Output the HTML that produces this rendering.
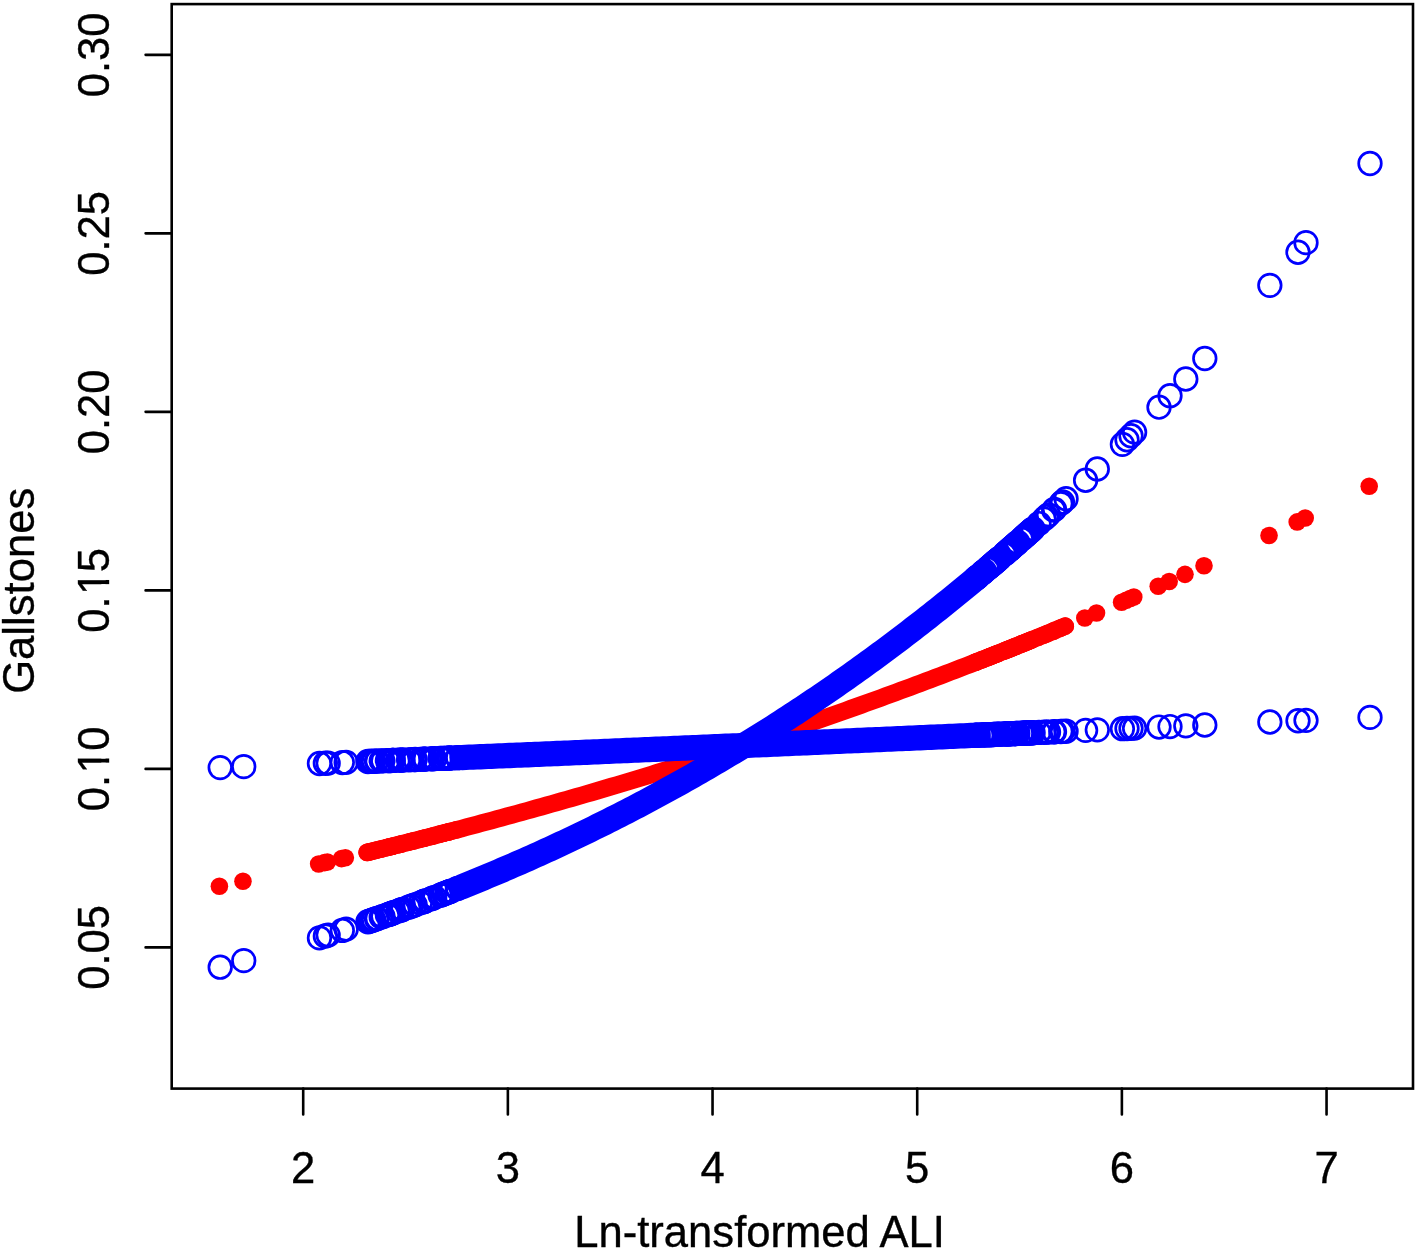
<!DOCTYPE html>
<html><head><meta charset="utf-8"><title>Gallstones vs Ln-transformed ALI</title>
<style>html,body{margin:0;padding:0;background:#fff;overflow:hidden;}svg{display:block;}</style>
</head><body>
<svg width="1417" height="1250" viewBox="0 0 1417 1250">
<rect width="1417" height="1250" fill="#fff"/>
<polyline points="367.15,852.41 372.14,851.19 377.12,849.97 382.11,848.74 387.1,847.5 392.08,846.27 397.07,845.02 402.05,843.77 407.04,842.52 412.03,841.26 417.01,840 422,838.73 426.99,837.46 431.97,836.18 436.96,834.89 441.95,833.6 446.93,832.31 451.92,831.01 456.91,829.7 461.89,828.39 466.88,827.08 471.86,825.76 476.85,824.43 481.84,823.1 486.82,821.76 491.81,820.42 496.8,819.07 501.78,817.72 506.77,816.36 511.76,815 516.74,813.63 521.73,812.26 526.72,810.88 531.7,809.49 536.69,808.1 541.67,806.7 546.66,805.3 551.65,803.89 556.63,802.48 561.62,801.06 566.61,799.64 571.59,798.21 576.58,796.77 581.57,795.33 586.55,793.88 591.54,792.43 596.53,790.97 601.51,789.51 606.5,788.04 611.49,786.56 616.47,785.08 621.46,783.6 626.44,782.1 631.43,780.6 636.42,779.1 641.4,777.59 646.39,776.07 651.38,774.55 656.36,773.02 661.35,771.49 666.34,769.95 671.32,768.4 676.31,766.85 681.3,765.3 686.28,763.73 691.27,762.16 696.25,760.59 701.24,759.01 706.23,757.42 711.21,755.82 716.2,754.22 721.19,752.62 726.17,751.01 731.16,749.39 736.15,747.76 741.13,746.13 746.12,744.49 751.11,742.85 756.09,741.2 761.08,739.55 766.06,737.89 771.05,736.22 776.04,734.54 781.02,732.86 786.01,731.18 791,729.48 795.98,727.78 800.97,726.08 805.96,724.36 810.94,722.65 815.93,720.92 820.91,719.19 825.9,717.45 830.89,715.71 835.87,713.95 840.86,712.2 845.85,710.43 850.83,708.66 855.82,706.89 860.81,705.1 865.79,703.31 870.78,701.51 875.77,699.71 880.75,697.9 885.74,696.08 890.72,694.26 895.71,692.43 900.7,690.59 905.68,688.75 910.67,686.9 915.66,685.04 920.64,683.18 925.63,681.31 930.62,679.43 935.6,677.55 940.59,675.66 945.58,673.76 950.56,671.86 955.55,669.95 960.54,668.03 965.52,666.1 970.51,664.17 975.49,662.23 980.48,660.29 985.47,658.33 990.45,656.37 995.44,654.41 1000.43,652.43 1005.41,650.45 1010.4,648.47 1015.39,646.47 1020.37,644.47 1025.36,642.46 1030.35,640.45 1035.33,638.42 1040.32,636.39 1045.3,634.36 1050.29,632.31 1055.28,630.26 1060.26,628.2 1065.25,626.14" fill="none" stroke="#ff0000" stroke-width="17.6" stroke-linecap="round" stroke-linejoin="round"/>
<g fill="#ff0000"><circle cx="219.4" cy="886.32" r="8.8"/><circle cx="242.95" cy="881.19" r="8.8"/><circle cx="318.65" cy="864" r="8.8"/><circle cx="324.55" cy="862.61" r="8.8"/><circle cx="327.35" cy="861.95" r="8.8"/><circle cx="341.5" cy="858.6" r="8.8"/><circle cx="345.35" cy="857.68" r="8.8"/><circle cx="1084.8" cy="617.97" r="8.8"/><circle cx="1096.5" cy="613.03" r="8.8"/><circle cx="1121.6" cy="602.29" r="8.8"/><circle cx="1126.2" cy="600.31" r="8.8"/><circle cx="1130.2" cy="598.57" r="8.8"/><circle cx="1133.8" cy="597.01" r="8.8"/><circle cx="1158.2" cy="586.31" r="8.8"/><circle cx="1169.2" cy="581.43" r="8.8"/><circle cx="1185" cy="574.35" r="8.8"/><circle cx="1204" cy="565.74" r="8.8"/><circle cx="1269.04" cy="535.44" r="8.8"/><circle cx="1297.2" cy="521.92" r="8.8"/><circle cx="1305.2" cy="518.04" r="8.8"/><circle cx="1369.2" cy="486.24" r="8.8"/><circle cx="367.15" cy="852.41" r="8.8"/><circle cx="369.04" cy="851.95" r="8.8"/><circle cx="369.62" cy="851.8" r="8.8"/><circle cx="371.53" cy="851.34" r="8.8"/><circle cx="372.96" cy="850.99" r="8.8"/><circle cx="375.7" cy="850.32" r="8.8"/><circle cx="376.42" cy="850.14" r="8.8"/><circle cx="380.4" cy="849.16" r="8.8"/><circle cx="382.13" cy="848.73" r="8.8"/><circle cx="386.61" cy="847.62" r="8.8"/><circle cx="387.61" cy="847.38" r="8.8"/><circle cx="389.28" cy="846.96" r="8.8"/><circle cx="389.75" cy="846.85" r="8.8"/><circle cx="391.93" cy="846.3" r="8.8"/><circle cx="392.15" cy="846.25" r="8.8"/><circle cx="392.31" cy="846.21" r="8.8"/><circle cx="397.17" cy="845" r="8.8"/><circle cx="399.52" cy="844.41" r="8.8"/><circle cx="401.1" cy="844.01" r="8.8"/><circle cx="402.05" cy="843.78" r="8.8"/><circle cx="407.77" cy="842.34" r="8.8"/><circle cx="410.48" cy="841.65" r="8.8"/><circle cx="413.68" cy="840.84" r="8.8"/><circle cx="414.34" cy="840.68" r="8.8"/><circle cx="419.57" cy="839.35" r="8.8"/><circle cx="422.64" cy="838.57" r="8.8"/><circle cx="423.83" cy="838.26" r="8.8"/><circle cx="424.47" cy="838.1" r="8.8"/><circle cx="430.31" cy="836.6" r="8.8"/><circle cx="431.76" cy="836.23" r="8.8"/><circle cx="433.9" cy="835.68" r="8.8"/><circle cx="439.3" cy="834.29" r="8.8"/><circle cx="440.83" cy="833.89" r="8.8"/><circle cx="443.09" cy="833.31" r="8.8"/><circle cx="443.31" cy="833.25" r="8.8"/><circle cx="446.34" cy="832.46" r="8.8"/><circle cx="448.07" cy="832.01" r="8.8"/><circle cx="448.32" cy="831.95" r="8.8"/><circle cx="448.77" cy="831.83" r="8.8"/><circle cx="450.88" cy="831.28" r="8.8"/><circle cx="456.56" cy="829.8" r="8.8"/><circle cx="456.87" cy="829.71" r="8.8"/><circle cx="974.7" cy="662.54" r="8.8"/><circle cx="975.6" cy="662.19" r="8.8"/><circle cx="976.5" cy="661.84" r="8.8"/><circle cx="977.4" cy="661.49" r="8.8"/><circle cx="981" cy="660.08" r="8.8"/><circle cx="981.9" cy="659.73" r="8.8"/><circle cx="982.8" cy="659.38" r="8.8"/><circle cx="983.7" cy="659.03" r="8.8"/><circle cx="986.4" cy="657.97" r="8.8"/><circle cx="987.3" cy="657.61" r="8.8"/><circle cx="988.2" cy="657.26" r="8.8"/><circle cx="989.1" cy="656.91" r="8.8"/><circle cx="990" cy="656.55" r="8.8"/><circle cx="990.9" cy="656.2" r="8.8"/><circle cx="991.8" cy="655.84" r="8.8"/><circle cx="992.7" cy="655.49" r="8.8"/><circle cx="993.6" cy="655.13" r="8.8"/><circle cx="994.5" cy="654.78" r="8.8"/><circle cx="995.4" cy="654.42" r="8.8"/><circle cx="996.3" cy="654.07" r="8.8"/><circle cx="997.2" cy="653.71" r="8.8"/><circle cx="998.1" cy="653.36" r="8.8"/><circle cx="999" cy="653" r="8.8"/><circle cx="1003.5" cy="651.21" r="8.8"/><circle cx="1004.4" cy="650.86" r="8.8"/><circle cx="1005.3" cy="650.5" r="8.8"/><circle cx="1006.2" cy="650.14" r="8.8"/><circle cx="1007.1" cy="649.78" r="8.8"/><circle cx="1008" cy="649.42" r="8.8"/><circle cx="1008.9" cy="649.06" r="8.8"/><circle cx="1009.8" cy="648.7" r="8.8"/><circle cx="1010.7" cy="648.35" r="8.8"/><circle cx="1011.6" cy="647.99" r="8.8"/><circle cx="1012.5" cy="647.63" r="8.8"/><circle cx="1013.4" cy="647.27" r="8.8"/><circle cx="1014.3" cy="646.91" r="8.8"/><circle cx="1015.2" cy="646.55" r="8.8"/><circle cx="1016.1" cy="646.18" r="8.8"/><circle cx="1017" cy="645.82" r="8.8"/><circle cx="1020.6" cy="644.38" r="8.8"/><circle cx="1021.5" cy="644.02" r="8.8"/><circle cx="1022.4" cy="643.65" r="8.8"/><circle cx="1023.3" cy="643.29" r="8.8"/><circle cx="1024.2" cy="642.93" r="8.8"/><circle cx="1025.1" cy="642.57" r="8.8"/><circle cx="1026" cy="642.2" r="8.8"/><circle cx="1026.9" cy="641.84" r="8.8"/><circle cx="1027.8" cy="641.47" r="8.8"/><circle cx="1028.7" cy="641.11" r="8.8"/><circle cx="1029.6" cy="640.75" r="8.8"/><circle cx="1030.5" cy="640.38" r="8.8"/><circle cx="1031.4" cy="640.02" r="8.8"/><circle cx="1032.3" cy="639.65" r="8.8"/><circle cx="1038.2" cy="637.26" r="8.8"/><circle cx="1043.2" cy="635.22" r="8.8"/><circle cx="1045.7" cy="634.19" r="8.8"/><circle cx="1047.7" cy="633.37" r="8.8"/><circle cx="1052.9" cy="631.24" r="8.8"/><circle cx="1053.7" cy="630.91" r="8.8"/><circle cx="1060" cy="628.31" r="8.8"/><circle cx="1061.7" cy="627.61" r="8.8"/><circle cx="1065.25" cy="626.14" r="8.8"/></g>
<polyline points="462,757.53 465.66,757.37 469.33,757.22 472.99,757.06 476.66,756.91 480.32,756.75 483.99,756.6 487.65,756.44 491.31,756.29 494.98,756.13 498.64,755.98 502.31,755.82 505.97,755.67 509.64,755.51 513.3,755.36 516.96,755.2 520.63,755.05 524.29,754.89 527.96,754.74 531.62,754.58 535.29,754.42 538.95,754.27 542.61,754.11 546.28,753.96 549.94,753.8 553.61,753.65 557.27,753.49 560.94,753.33 564.6,753.18 568.26,753.02 571.93,752.86 575.59,752.71 579.26,752.55 582.92,752.39 586.59,752.24 590.25,752.08 593.91,751.93 597.58,751.77 601.24,751.61 604.91,751.45 608.57,751.3 612.24,751.14 615.9,750.98 619.56,750.83 623.23,750.67 626.89,750.51 630.56,750.36 634.22,750.2 637.89,750.04 641.55,749.88 645.21,749.73 648.88,749.57 652.54,749.41 656.21,749.25 659.87,749.1 663.54,748.94 667.2,748.78 670.86,748.62 674.53,748.46 678.19,748.31 681.86,748.15 685.52,747.99 689.19,747.83 692.85,747.67 696.51,747.52 700.18,747.36 703.84,747.2 707.51,747.04 711.17,746.88 714.84,746.72 718.5,746.56 722.16,746.41 725.83,746.25 729.49,746.09 733.16,745.93 736.82,745.77 740.49,745.61 744.15,745.45 747.81,745.29 751.48,745.13 755.14,744.98 758.81,744.82 762.47,744.66 766.14,744.5 769.8,744.34 773.46,744.18 777.13,744.02 780.79,743.86 784.46,743.7 788.12,743.54 791.79,743.38 795.45,743.22 799.11,743.06 802.78,742.9 806.44,742.74 810.11,742.58 813.77,742.42 817.44,742.26 821.1,742.1 824.76,741.94 828.43,741.78 832.09,741.62 835.76,741.46 839.42,741.3 843.09,741.14 846.75,740.98 850.41,740.81 854.08,740.65 857.74,740.49 861.41,740.33 865.07,740.17 868.74,740.01 872.4,739.85 876.06,739.69 879.73,739.53 883.39,739.37 887.06,739.2 890.72,739.04 894.39,738.88 898.05,738.72 901.71,738.56 905.38,738.4 909.04,738.24 912.71,738.07 916.37,737.91 920.04,737.75 923.7,737.59 927.36,737.43 931.03,737.26 934.69,737.1 938.36,736.94 942.02,736.78 945.69,736.61 949.35,736.45 953.01,736.29 956.68,736.13 960.34,735.97 964.01,735.8 967.67,735.64 971.34,735.48 975,735.31" fill="none" stroke="#0000ff" stroke-width="25.3" stroke-linecap="round" stroke-linejoin="round"/>
<polyline points="462,886.69 465.66,885.21 469.33,883.73 472.99,882.24 476.66,880.74 480.32,879.23 483.99,877.72 487.65,876.19 491.31,874.66 494.98,873.12 498.64,871.56 502.31,870 505.97,868.43 509.64,866.86 513.3,865.27 516.96,863.67 520.63,862.07 524.29,860.45 527.96,858.83 531.62,857.2 535.29,855.56 538.95,853.91 542.61,852.25 546.28,850.58 549.94,848.9 553.61,847.21 557.27,845.51 560.94,843.8 564.6,842.09 568.26,840.36 571.93,838.63 575.59,836.88 579.26,835.12 582.92,833.36 586.59,831.58 590.25,829.8 593.91,828.01 597.58,826.2 601.24,824.39 604.91,822.56 608.57,820.73 612.24,818.88 615.9,817.03 619.56,815.16 623.23,813.29 626.89,811.4 630.56,809.51 634.22,807.6 637.89,805.68 641.55,803.76 645.21,801.82 648.88,799.87 652.54,797.91 656.21,795.94 659.87,793.96 663.54,791.97 667.2,789.97 670.86,787.96 674.53,785.94 678.19,783.9 681.86,781.86 685.52,779.8 689.19,777.73 692.85,775.66 696.51,773.57 700.18,771.47 703.84,769.36 707.51,767.23 711.17,765.1 714.84,762.95 718.5,760.8 722.16,758.63 725.83,756.45 729.49,754.26 733.16,752.06 736.82,749.84 740.49,747.62 744.15,745.38 747.81,743.13 751.48,740.87 755.14,738.6 758.81,736.32 762.47,734.02 766.14,731.71 769.8,729.39 773.46,727.06 777.13,724.72 780.79,722.36 784.46,719.99 788.12,717.61 791.79,715.22 795.45,712.81 799.11,710.4 802.78,707.97 806.44,705.53 810.11,703.07 813.77,700.6 817.44,698.13 821.1,695.63 824.76,693.13 828.43,690.61 832.09,688.08 835.76,685.54 839.42,682.99 843.09,680.42 846.75,677.84 850.41,675.24 854.08,672.64 857.74,670.02 861.41,667.39 865.07,664.74 868.74,662.08 872.4,659.41 876.06,656.73 879.73,654.03 883.39,651.32 887.06,648.59 890.72,645.86 894.39,643.11 898.05,640.34 901.71,637.56 905.38,634.77 909.04,631.97 912.71,629.15 916.37,626.32 920.04,623.47 923.7,620.62 927.36,617.74 931.03,614.86 934.69,611.96 938.36,609.04 942.02,606.12 945.69,603.18 949.35,600.22 953.01,597.25 956.68,594.27 960.34,591.27 964.01,588.26 967.67,585.24 971.34,582.2 975,579.15" fill="none" stroke="#0000ff" stroke-width="25.3" stroke-linecap="round" stroke-linejoin="round"/>
<g fill="none" stroke="#0000ff" stroke-width="2.7"><circle cx="220.2" cy="767.61" r="11.3"/><circle cx="220.2" cy="967.19" r="11.3"/><circle cx="243.75" cy="766.64" r="11.3"/><circle cx="243.75" cy="960.66" r="11.3"/><circle cx="319.45" cy="763.5" r="11.3"/><circle cx="319.45" cy="937.88" r="11.3"/><circle cx="325.35" cy="763.25" r="11.3"/><circle cx="325.35" cy="935.98" r="11.3"/><circle cx="328.15" cy="763.14" r="11.3"/><circle cx="328.15" cy="935.08" r="11.3"/><circle cx="342.3" cy="762.55" r="11.3"/><circle cx="342.3" cy="930.44" r="11.3"/><circle cx="346.15" cy="762.39" r="11.3"/><circle cx="346.15" cy="929.16" r="11.3"/><circle cx="1085.6" cy="730.37" r="11.3"/><circle cx="1085.6" cy="480.24" r="11.3"/><circle cx="1097.3" cy="729.85" r="11.3"/><circle cx="1097.3" cy="469" r="11.3"/><circle cx="1122.4" cy="728.72" r="11.3"/><circle cx="1122.4" cy="444.36" r="11.3"/><circle cx="1127" cy="728.51" r="11.3"/><circle cx="1127" cy="439.77" r="11.3"/><circle cx="1131" cy="728.33" r="11.3"/><circle cx="1131" cy="435.76" r="11.3"/><circle cx="1134.6" cy="728.17" r="11.3"/><circle cx="1134.6" cy="432.14" r="11.3"/><circle cx="1159" cy="727.07" r="11.3"/><circle cx="1159" cy="407.18" r="11.3"/><circle cx="1170" cy="726.57" r="11.3"/><circle cx="1170" cy="395.71" r="11.3"/><circle cx="1185.8" cy="725.85" r="11.3"/><circle cx="1185.8" cy="379" r="11.3"/><circle cx="1204.8" cy="724.99" r="11.3"/><circle cx="1204.8" cy="358.52" r="11.3"/><circle cx="1269.84" cy="722.02" r="11.3"/><circle cx="1269.84" cy="285.37" r="11.3"/><circle cx="1298" cy="720.73" r="11.3"/><circle cx="1298" cy="252.23" r="11.3"/><circle cx="1306" cy="720.37" r="11.3"/><circle cx="1306" cy="242.65" r="11.3"/><circle cx="1370" cy="717.42" r="11.3"/><circle cx="1370" cy="163.51" r="11.3"/><circle cx="367.95" cy="761.48" r="11.3"/><circle cx="367.95" cy="921.75" r="11.3"/><circle cx="369.84" cy="761.4" r="11.3"/><circle cx="369.84" cy="921.1" r="11.3"/><circle cx="370.42" cy="761.37" r="11.3"/><circle cx="370.42" cy="920.89" r="11.3"/><circle cx="372.33" cy="761.29" r="11.3"/><circle cx="372.33" cy="920.23" r="11.3"/><circle cx="373.76" cy="761.23" r="11.3"/><circle cx="373.76" cy="919.73" r="11.3"/><circle cx="376.5" cy="761.12" r="11.3"/><circle cx="376.5" cy="918.77" r="11.3"/><circle cx="377.22" cy="761.09" r="11.3"/><circle cx="377.22" cy="918.52" r="11.3"/><circle cx="381.2" cy="760.92" r="11.3"/><circle cx="381.2" cy="917.12" r="11.3"/><circle cx="382.93" cy="760.85" r="11.3"/><circle cx="382.93" cy="916.51" r="11.3"/><circle cx="387.41" cy="760.66" r="11.3"/><circle cx="387.41" cy="914.92" r="11.3"/><circle cx="388.41" cy="760.62" r="11.3"/><circle cx="388.41" cy="914.56" r="11.3"/><circle cx="390.08" cy="760.55" r="11.3"/><circle cx="390.08" cy="913.96" r="11.3"/><circle cx="390.55" cy="760.53" r="11.3"/><circle cx="390.55" cy="913.79" r="11.3"/><circle cx="392.73" cy="760.44" r="11.3"/><circle cx="392.73" cy="913.01" r="11.3"/><circle cx="392.95" cy="760.43" r="11.3"/><circle cx="392.95" cy="912.93" r="11.3"/><circle cx="393.11" cy="760.42" r="11.3"/><circle cx="393.11" cy="912.88" r="11.3"/><circle cx="397.97" cy="760.22" r="11.3"/><circle cx="397.97" cy="911.12" r="11.3"/><circle cx="400.32" cy="760.12" r="11.3"/><circle cx="400.32" cy="910.27" r="11.3"/><circle cx="401.9" cy="760.06" r="11.3"/><circle cx="401.9" cy="909.69" r="11.3"/><circle cx="402.85" cy="760.02" r="11.3"/><circle cx="402.85" cy="909.34" r="11.3"/><circle cx="408.57" cy="759.78" r="11.3"/><circle cx="408.57" cy="907.24" r="11.3"/><circle cx="411.28" cy="759.66" r="11.3"/><circle cx="411.28" cy="906.24" r="11.3"/><circle cx="414.48" cy="759.53" r="11.3"/><circle cx="414.48" cy="905.05" r="11.3"/><circle cx="415.14" cy="759.5" r="11.3"/><circle cx="415.14" cy="904.81" r="11.3"/><circle cx="420.37" cy="759.28" r="11.3"/><circle cx="420.37" cy="902.85" r="11.3"/><circle cx="423.44" cy="759.15" r="11.3"/><circle cx="423.44" cy="901.7" r="11.3"/><circle cx="424.63" cy="759.1" r="11.3"/><circle cx="424.63" cy="901.25" r="11.3"/><circle cx="425.27" cy="759.07" r="11.3"/><circle cx="425.27" cy="901" r="11.3"/><circle cx="431.11" cy="758.83" r="11.3"/><circle cx="431.11" cy="898.78" r="11.3"/><circle cx="432.56" cy="758.77" r="11.3"/><circle cx="432.56" cy="898.23" r="11.3"/><circle cx="434.7" cy="758.68" r="11.3"/><circle cx="434.7" cy="897.41" r="11.3"/><circle cx="440.1" cy="758.45" r="11.3"/><circle cx="440.1" cy="895.32" r="11.3"/><circle cx="441.63" cy="758.39" r="11.3"/><circle cx="441.63" cy="894.73" r="11.3"/><circle cx="443.89" cy="758.29" r="11.3"/><circle cx="443.89" cy="893.85" r="11.3"/><circle cx="444.11" cy="758.28" r="11.3"/><circle cx="444.11" cy="893.76" r="11.3"/><circle cx="447.14" cy="758.15" r="11.3"/><circle cx="447.14" cy="892.58" r="11.3"/><circle cx="448.87" cy="758.08" r="11.3"/><circle cx="448.87" cy="891.9" r="11.3"/><circle cx="449.12" cy="758.07" r="11.3"/><circle cx="449.12" cy="891.8" r="11.3"/><circle cx="449.57" cy="758.05" r="11.3"/><circle cx="449.57" cy="891.63" r="11.3"/><circle cx="451.68" cy="757.96" r="11.3"/><circle cx="451.68" cy="890.79" r="11.3"/><circle cx="457.36" cy="757.72" r="11.3"/><circle cx="457.36" cy="888.54" r="11.3"/><circle cx="457.67" cy="757.71" r="11.3"/><circle cx="457.67" cy="888.42" r="11.3"/><circle cx="975.5" cy="735.29" r="11.3"/><circle cx="975.5" cy="578.73" r="11.3"/><circle cx="976.4" cy="735.25" r="11.3"/><circle cx="976.4" cy="577.98" r="11.3"/><circle cx="977.3" cy="735.21" r="11.3"/><circle cx="977.3" cy="577.22" r="11.3"/><circle cx="978.2" cy="735.17" r="11.3"/><circle cx="978.2" cy="576.47" r="11.3"/><circle cx="981.8" cy="735.01" r="11.3"/><circle cx="981.8" cy="573.44" r="11.3"/><circle cx="982.7" cy="734.97" r="11.3"/><circle cx="982.7" cy="572.69" r="11.3"/><circle cx="983.6" cy="734.93" r="11.3"/><circle cx="983.6" cy="571.93" r="11.3"/><circle cx="984.5" cy="734.89" r="11.3"/><circle cx="984.5" cy="571.17" r="11.3"/><circle cx="987.2" cy="734.77" r="11.3"/><circle cx="987.2" cy="568.88" r="11.3"/><circle cx="988.1" cy="734.73" r="11.3"/><circle cx="988.1" cy="568.12" r="11.3"/><circle cx="989" cy="734.69" r="11.3"/><circle cx="989" cy="567.35" r="11.3"/><circle cx="989.9" cy="734.65" r="11.3"/><circle cx="989.9" cy="566.59" r="11.3"/><circle cx="990.8" cy="734.61" r="11.3"/><circle cx="990.8" cy="565.82" r="11.3"/><circle cx="991.7" cy="734.57" r="11.3"/><circle cx="991.7" cy="565.06" r="11.3"/><circle cx="992.6" cy="734.53" r="11.3"/><circle cx="992.6" cy="564.29" r="11.3"/><circle cx="993.5" cy="734.49" r="11.3"/><circle cx="993.5" cy="563.52" r="11.3"/><circle cx="994.4" cy="734.45" r="11.3"/><circle cx="994.4" cy="562.75" r="11.3"/><circle cx="995.3" cy="734.41" r="11.3"/><circle cx="995.3" cy="561.98" r="11.3"/><circle cx="996.2" cy="734.37" r="11.3"/><circle cx="996.2" cy="561.21" r="11.3"/><circle cx="997.1" cy="734.33" r="11.3"/><circle cx="997.1" cy="560.44" r="11.3"/><circle cx="998" cy="734.29" r="11.3"/><circle cx="998" cy="559.66" r="11.3"/><circle cx="998.9" cy="734.25" r="11.3"/><circle cx="998.9" cy="558.89" r="11.3"/><circle cx="999.8" cy="734.21" r="11.3"/><circle cx="999.8" cy="558.11" r="11.3"/><circle cx="1004.3" cy="734.01" r="11.3"/><circle cx="1004.3" cy="554.23" r="11.3"/><circle cx="1005.2" cy="733.97" r="11.3"/><circle cx="1005.2" cy="553.45" r="11.3"/><circle cx="1006.1" cy="733.93" r="11.3"/><circle cx="1006.1" cy="552.67" r="11.3"/><circle cx="1007" cy="733.89" r="11.3"/><circle cx="1007" cy="551.89" r="11.3"/><circle cx="1007.9" cy="733.85" r="11.3"/><circle cx="1007.9" cy="551.1" r="11.3"/><circle cx="1008.8" cy="733.81" r="11.3"/><circle cx="1008.8" cy="550.32" r="11.3"/><circle cx="1009.7" cy="733.77" r="11.3"/><circle cx="1009.7" cy="549.54" r="11.3"/><circle cx="1010.6" cy="733.73" r="11.3"/><circle cx="1010.6" cy="548.75" r="11.3"/><circle cx="1011.5" cy="733.69" r="11.3"/><circle cx="1011.5" cy="547.96" r="11.3"/><circle cx="1012.4" cy="733.65" r="11.3"/><circle cx="1012.4" cy="547.18" r="11.3"/><circle cx="1013.3" cy="733.61" r="11.3"/><circle cx="1013.3" cy="546.39" r="11.3"/><circle cx="1014.2" cy="733.57" r="11.3"/><circle cx="1014.2" cy="545.6" r="11.3"/><circle cx="1015.1" cy="733.53" r="11.3"/><circle cx="1015.1" cy="544.81" r="11.3"/><circle cx="1016" cy="733.49" r="11.3"/><circle cx="1016" cy="544.02" r="11.3"/><circle cx="1016.9" cy="733.45" r="11.3"/><circle cx="1016.9" cy="543.23" r="11.3"/><circle cx="1017.8" cy="733.41" r="11.3"/><circle cx="1017.8" cy="542.44" r="11.3"/><circle cx="1021.4" cy="733.25" r="11.3"/><circle cx="1021.4" cy="539.26" r="11.3"/><circle cx="1022.3" cy="733.21" r="11.3"/><circle cx="1022.3" cy="538.47" r="11.3"/><circle cx="1023.2" cy="733.17" r="11.3"/><circle cx="1023.2" cy="537.67" r="11.3"/><circle cx="1024.1" cy="733.13" r="11.3"/><circle cx="1024.1" cy="536.87" r="11.3"/><circle cx="1025" cy="733.09" r="11.3"/><circle cx="1025" cy="536.07" r="11.3"/><circle cx="1025.9" cy="733.05" r="11.3"/><circle cx="1025.9" cy="535.27" r="11.3"/><circle cx="1026.8" cy="733.01" r="11.3"/><circle cx="1026.8" cy="534.47" r="11.3"/><circle cx="1027.7" cy="732.97" r="11.3"/><circle cx="1027.7" cy="533.67" r="11.3"/><circle cx="1028.6" cy="732.93" r="11.3"/><circle cx="1028.6" cy="532.87" r="11.3"/><circle cx="1029.5" cy="732.89" r="11.3"/><circle cx="1029.5" cy="532.06" r="11.3"/><circle cx="1030.4" cy="732.85" r="11.3"/><circle cx="1030.4" cy="531.26" r="11.3"/><circle cx="1031.3" cy="732.81" r="11.3"/><circle cx="1031.3" cy="530.45" r="11.3"/><circle cx="1032.2" cy="732.77" r="11.3"/><circle cx="1032.2" cy="529.65" r="11.3"/><circle cx="1033.1" cy="732.73" r="11.3"/><circle cx="1033.1" cy="528.84" r="11.3"/><circle cx="1039" cy="732.46" r="11.3"/><circle cx="1039" cy="523.53" r="11.3"/><circle cx="1044" cy="732.24" r="11.3"/><circle cx="1044" cy="519" r="11.3"/><circle cx="1046.5" cy="732.13" r="11.3"/><circle cx="1046.5" cy="516.72" r="11.3"/><circle cx="1048.5" cy="732.04" r="11.3"/><circle cx="1048.5" cy="514.9" r="11.3"/><circle cx="1053.7" cy="731.8" r="11.3"/><circle cx="1053.7" cy="510.13" r="11.3"/><circle cx="1054.5" cy="731.77" r="11.3"/><circle cx="1054.5" cy="509.39" r="11.3"/><circle cx="1060.8" cy="731.49" r="11.3"/><circle cx="1060.8" cy="503.58" r="11.3"/><circle cx="1062.5" cy="731.41" r="11.3"/><circle cx="1062.5" cy="502" r="11.3"/><circle cx="1066.05" cy="731.25" r="11.3"/><circle cx="1066.05" cy="498.69" r="11.3"/></g>
<rect x="171.7" y="4.1" width="1241.3" height="1084.5" fill="none" stroke="#000" stroke-width="2.6"/>
<path d="M303.2 1088.6V1114.5 M507.87 1088.6V1114.5 M712.54 1088.6V1114.5 M917.21 1088.6V1114.5 M1121.88 1088.6V1114.5 M1326.55 1088.6V1114.5 M145.6 54.85H171.7 M145.6 233.36H171.7 M145.6 411.87H171.7 M145.6 590.38H171.7 M145.6 768.89H171.7 M145.6 947.4H171.7" stroke="#000" stroke-width="2.6" stroke-linecap="round" fill="none"/>
<g font-family="'Liberation Sans', Arial, sans-serif" font-size="43.6" fill="#000" stroke="#000" stroke-width="0.35"><text x="303.2" y="1182.6" text-anchor="middle">2</text>
<text x="507.87" y="1182.6" text-anchor="middle">3</text>
<text x="712.54" y="1182.6" text-anchor="middle">4</text>
<text x="917.21" y="1182.6" text-anchor="middle">5</text>
<text x="1121.88" y="1182.6" text-anchor="middle">6</text>
<text x="1326.55" y="1182.6" text-anchor="middle">7</text>
<text transform="translate(109.3 54.85) rotate(-90)" text-anchor="middle">0.30</text>
<text transform="translate(109.3 233.36) rotate(-90)" text-anchor="middle">0.25</text>
<text transform="translate(109.3 411.87) rotate(-90)" text-anchor="middle">0.20</text>
<text transform="translate(109.3 590.38) rotate(-90)" text-anchor="middle">0.<tspan dx="1.5">1</tspan><tspan dx="-1.5">5</tspan></text>
<text transform="translate(109.3 768.89) rotate(-90)" text-anchor="middle">0.<tspan dx="1.5">1</tspan><tspan dx="-1.5">0</tspan></text>
<text transform="translate(109.3 947.4) rotate(-90)" text-anchor="middle">0.05</text>
<text x="759.6" y="1246.8" text-anchor="middle">Ln-transformed ALI</text>
<text transform="translate(34.4 590.8) rotate(-90)" text-anchor="middle">Gallstones</text></g>
<g fill="#fff"><g transform="translate(109.3 590.38) rotate(-90)"><rect x="-3.08" y="-8" width="9.32" height="9.3"/><rect x="10.4" y="-8" width="8.45" height="9.3"/></g><g transform="translate(109.3 768.89) rotate(-90)"><rect x="-3.08" y="-8" width="9.32" height="9.3"/><rect x="10.4" y="-8" width="8.45" height="9.3"/></g></g>
</svg>
</body></html>
